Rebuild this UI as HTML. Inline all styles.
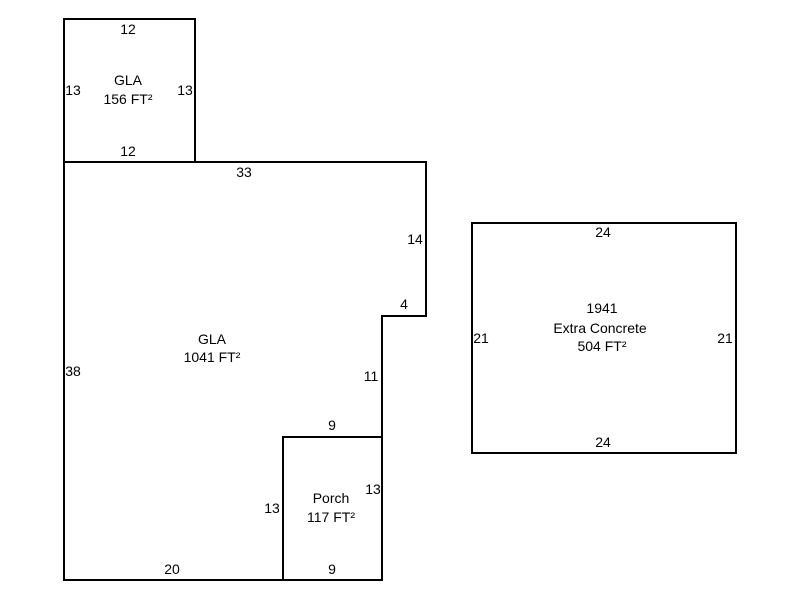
<!DOCTYPE html>
<html><head><meta charset="utf-8"><style>
html,body{margin:0;padding:0;background:#fff;width:800px;height:600px;overflow:hidden}
text{font-family:"Liberation Sans",Arial,sans-serif;font-size:14px;fill:#000}
</style></head><body>
<svg width="800" height="600" viewBox="0 0 800 600">
<g fill="none" stroke="#000" stroke-width="2">
<rect x="64" y="19" width="131" height="143"/>
<polygon points="64,162 426,162 426,316 382,316 382,580 64,580"/>
<rect x="283" y="437" width="99" height="143"/>
<rect x="472" y="223" width="264" height="230"/>
</g>
<g text-anchor="middle">
<text x="128" y="34">12</text>
<text x="73" y="95">13</text>
<text x="185" y="95">13</text>
<text x="128" y="85">GLA</text>
<text x="128" y="104">156 FT²</text>
<text x="128" y="156">12</text>
<text x="244" y="177">33</text>
<text x="415" y="244">14</text>
<text x="404" y="309">4</text>
<text x="212" y="344">GLA</text>
<text x="212" y="362">1041 FT²</text>
<text x="73" y="376">38</text>
<text x="371" y="381">11</text>
<text x="332" y="430">9</text>
<text x="331" y="503">Porch</text>
<text x="331" y="522">117 FT²</text>
<text x="373" y="494">13</text>
<text x="272" y="513">13</text>
<text x="172" y="574">20</text>
<text x="332" y="574">9</text>
<text x="603" y="237">24</text>
<text x="602" y="313">1941</text>
<text x="600" y="333">Extra Concrete</text>
<text x="602" y="351">504 FT²</text>
<text x="481" y="343">21</text>
<text x="725" y="343">21</text>
<text x="603" y="447">24</text>
</g>
</svg>
</body></html>
